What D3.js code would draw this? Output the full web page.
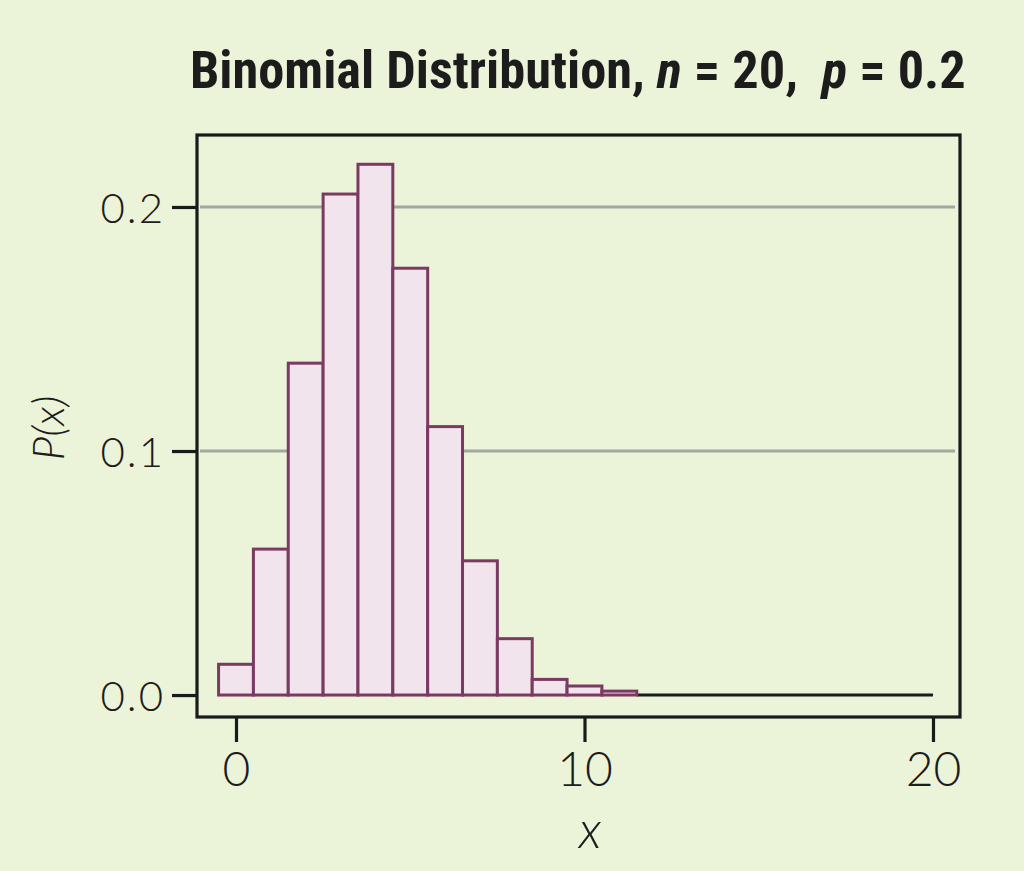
<!DOCTYPE html>
<html>
<head>
<meta charset="utf-8">
<script src="https://cdn.jsdelivr.net/npm/d3@7"></script>
<style>
  html, body { margin: 0; padding: 0; background: #EBF3D8; }
  svg { display: block; }
  text { white-space: pre; }
</style>
</head>
<body>
<svg id="chart" width="1024" height="871"></svg>
<script>
// ---- data ----
const xValues = [0,1,2,3,4,5,6,7,8,9,10,11,12,13,14,15,16,17,18,19,20];
const probabilities = [0.0126,0.0598,0.136,0.2053,0.2175,0.1749,0.110,0.055,0.0231,0.0064,0.0037,0.0016,0,0,0,0,0,0,0,0,0];
const yTickValues = [0.0, 0.1, 0.2];
const xTickValues = [0, 10, 20];
const gridValues = [0.1, 0.2];
const titleParts = [
  {t: "Binomial Distribution, ", italic: false},
  {t: "n", italic: true},
  {t: " = 20,  ", italic: false},
  {t: "p", italic: true},
  {t: " = 0.2", italic: false}
];

const svg = d3.select("#chart");
const W = 1024, H = 871;
const plot = {left: 197, right: 960, top: 135, bottom: 717};
const labelFont = "Lato, 'Noto Sans', sans-serif";

svg.append("rect").attr("width", W).attr("height", H).attr("fill", "#EBF3D8");

const x = d3.scaleLinear().domain([-1.119, 20.775]).range([plot.left, plot.right]);
const y = d3.scaleLinear().domain([-0.009, 0.2295]).range([plot.bottom, plot.top]);

// gridlines
svg.append("g").selectAll("line").data(gridValues).join("line")
  .attr("x1", plot.left + 3).attr("x2", plot.right - 5)
  .attr("y1", d => y(d)).attr("y2", d => y(d))
  .attr("stroke", "#A2A89F").attr("stroke-width", 3);

// zero-height tail
const data = xValues.map((v, i) => ({x: v, p: probabilities[i]}));
const zeros = data.filter(d => d.p === 0);
if (zeros.length) {
  svg.append("line")
    .attr("x1", x(zeros[0].x - 0.5)).attr("x2", x(zeros[zeros.length - 1].x))
    .attr("y1", y(0)).attr("y2", y(0))
    .attr("stroke", "#1c1c1c").attr("stroke-width", 3);
}

// bars
svg.append("g").selectAll("rect").data(data.filter(d => d.p > 0)).join("rect")
  .attr("x", d => x(d.x - 0.5))
  .attr("width", d => x(d.x + 0.5) - x(d.x - 0.5))
  .attr("y", d => y(d.p))
  .attr("height", d => y(0) - y(d.p))
  .attr("fill", "#F1E4EC")
  .attr("stroke", "#7B3A62")
  .attr("stroke-width", 3);

// frame
svg.append("rect")
  .attr("x", plot.left).attr("y", plot.top)
  .attr("width", plot.right - plot.left).attr("height", plot.bottom - plot.top)
  .attr("fill", "none").attr("stroke", "#1a1a1a").attr("stroke-width", 3.2);

// axes
const yAxis = d3.axisLeft(y).tickValues(yTickValues).tickFormat(d3.format(".1f"))
  .tickSize(25).tickPadding(7);
const gy = svg.append("g").attr("transform", `translate(${plot.left},0)`).call(yAxis);
gy.select(".domain").remove();
gy.selectAll(".tick line").attr("stroke", "#1a1a1a").attr("stroke-width", 3.2);
gy.selectAll(".tick text").attr("fill", "#1c1c1c")
  .style("font-family", labelFont).style("font-size", "42px").style("font-weight", "300")
  .style("letter-spacing", "2px")
  .attr("dy", "0.36em");

const xAxis = d3.axisBottom(x).tickValues(xTickValues).tickFormat(d3.format("d"))
  .tickSize(25).tickPadding(10);
const gx = svg.append("g").attr("transform", `translate(0,${plot.bottom})`).call(xAxis);
gx.select(".domain").remove();
gx.selectAll(".tick line").attr("stroke", "#1a1a1a").attr("stroke-width", 3.2);
gx.selectAll(".tick text").attr("fill", "#1c1c1c")
  .style("font-family", labelFont).style("font-size", "48px").style("font-weight", "300");

// axis titles
svg.append("text").attr("x", 590).attr("y", 848).attr("text-anchor", "middle")
  .style("font-family", labelFont).style("font-size", "52px").style("font-weight", "300")
  .style("font-style", "italic").attr("fill", "#1c1c1c").text("x");

svg.append("text").attr("transform", "translate(64,428) rotate(-90)").attr("text-anchor", "middle")
  .style("font-family", labelFont).style("font-size", "44px").style("font-weight", "300")
  .style("font-style", "italic").attr("fill", "#1c1c1c").text("P(x)");

// title
const title = svg.append("text").attr("x", 0).attr("y", 0)
  .style("font-family", "'Liberation Sans Narrow', 'Roboto Condensed', 'Liberation Sans', sans-serif")
  .style("font-size", "52px").style("font-weight", "bold").attr("fill", "#1c1c1c");
titleParts.forEach(p => {
  title.append("tspan").style("font-style", p.italic ? "italic" : "normal").text(p.t);
});
const bb = title.node().getBBox();
const targetLeft = 190, targetRight = 966, baseline = 88;
const sx = (targetRight - targetLeft) / bb.width;
title.attr("transform", `translate(${targetLeft - bb.x * sx},${baseline}) scale(${sx},1)`);
</script>
</body>
</html>
